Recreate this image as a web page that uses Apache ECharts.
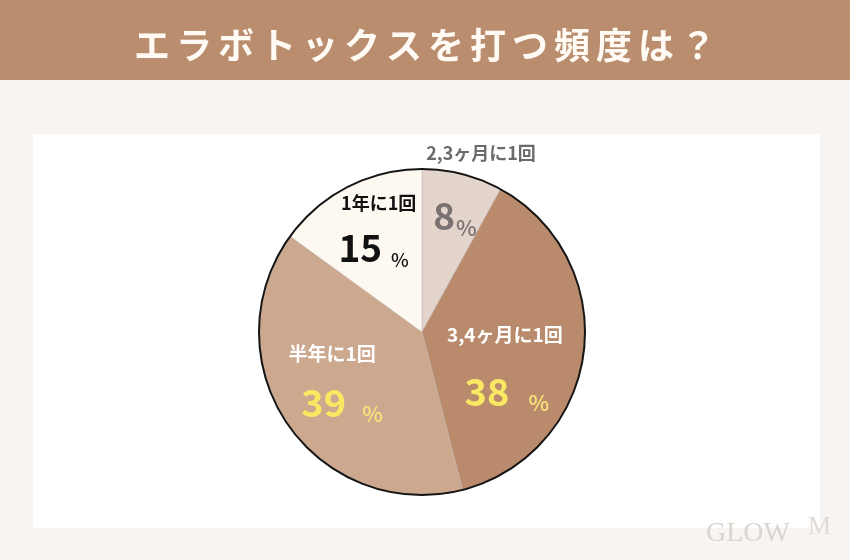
<!DOCTYPE html>
<html><head><meta charset="utf-8">
<script src="https://cdn.jsdelivr.net/npm/echarts@6/dist/echarts.min.js"></script>
<style>html,body{margin:0;padding:0;background:#f8f4f1}#c{width:850px;height:560px}</style>
</head><body><div id="c"></div>
<script>
const titleText = 'エラボトックスを打つ頻度は？';
const categories = ['2,3ヶ月に1回', '3,4ヶ月に1回', '半年に1回', '1年に1回'];
const values = [8, 38, 39, 15];
const unit = '%';

const FONT = '"Noto Sans CJK JP", "Noto Sans", sans-serif';
const sliceColors = ['#e3d4cc', '#b98b6c', '#cca88f', '#fdf8f0'];
const nameColors = ['#6e6a6a', '#ffffff', '#ffffff', '#111111'];
const nameSizes = [18, 19, 19, 18];
const numColors = ['#7a7270', '#fae863', '#fae863', '#111111'];
const pctColors = ['#7a7270', '#f8e47a', '#f8e47a', '#111111'];
const numSizes = [37, 38, 38, 37];
const pctSizes = [22, 22, 22, 19];
const pctGap = [1, 19, 16, 9];
const pctLH = [12, 18, 30, 26];
const nameShift = [[38, -97], [-1, -8], [-20, -26], [-5, -54]];
const valueShift = [[12, -34], [1, 49], [-10, 23], [-10, -9]];

const chart = echarts.init(document.getElementById('c'), null, {renderer: 'canvas'});

const valueData = values.map((v, i) => ({
  value: v,
  name: categories[i],
  itemStyle: {color: sliceColors[i]},
  label: {
    formatter: '{n|' + v + '}{p|' + unit + '}',
    rich: {
      n: {fontSize: numSizes[i], fontWeight: 'bold', color: numColors[i], fontFamily: FONT, lineHeight: 44},
      p: {fontSize: pctSizes[i], fontWeight: 500, color: pctColors[i], fontFamily: FONT,
          lineHeight: pctLH[i], verticalAlign: 'bottom', padding: [0, 0, 0, pctGap[i]]}
    }
  }
}));

const nameData = values.map((v, i) => ({
  value: v,
  name: categories[i],
  label: {color: nameColors[i], fontSize: nameSizes[i]}
}));

const titleRich = titleText.split('').map(c => '{c|' + c + '}').join('');

const option = {
  backgroundColor: '#f8f4f1',
  animation: false,
  title: {
    text: titleRich,
    left: 'center',
    top: 19,
    z: 10,
    textStyle: {
      rich: {
        c: {fontSize: 36, fontWeight: 'bold', color: '#fffaf3', fontFamily: FONT, padding: [0, 3, 0, 3], lineHeight: 42}
      }
    }
  },
  graphic: [
    {type: 'rect', z: 0, shape: {x: 0, y: 0, width: 850, height: 80}, style: {fill: '#b98d6d'}},
    {type: 'rect', z: 0, shape: {x: 33, y: 134, width: 787, height: 394}, style: {fill: '#ffffff'}},
    {type: 'text', z: 1, left: 706, top: 520,
      style: {text: 'GLOW', fontSize: 28, fontFamily: '"Liberation Serif", serif', fill: '#dcd4ce', fontWeight: 'normal'}},
    {type: 'text', z: 1, left: 808, top: 514,
      style: {text: 'M', fontSize: 26, fontFamily: '"Liberation Serif", serif', fill: '#e2dad4'}}
  ],
  series: [
    {
      type: 'pie',
      z: 2,
      center: [422, 332],
      radius: 163,
      startAngle: 90,
      clockwise: true,
      silent: true,
      emphasis: {disabled: true},
      itemStyle: {borderColor: 'rgba(190,178,172,0.55)', borderWidth: 0.8},
      label: {show: true, position: 'inside', textBorderWidth: 0},
      labelLine: {show: false},
      labelLayout: function (p) { return {dx: valueShift[p.dataIndex][0], dy: valueShift[p.dataIndex][1]}; },
      data: valueData
    },
    {
      type: 'pie',
      z: 3,
      center: [422, 332],
      radius: 163,
      startAngle: 90,
      clockwise: true,
      silent: true,
      emphasis: {disabled: true},
      itemStyle: {color: 'rgba(0,0,0,0)', borderWidth: 0},
      label: {show: true, position: 'inside', formatter: '{b}', fontWeight: 'bold', fontFamily: FONT, textBorderWidth: 0},
      labelLine: {show: false},
      labelLayout: function (p) { return {dx: nameShift[p.dataIndex][0], dy: nameShift[p.dataIndex][1]}; },
      data: nameData
    },
    {
      type: 'pie',
      z: 4,
      center: [422, 332],
      radius: 163,
      silent: true,
      emphasis: {disabled: true},
      itemStyle: {color: 'rgba(0,0,0,0)', borderColor: '#151515', borderWidth: 2},
      label: {show: false},
      labelLine: {show: false},
      data: [{value: 1, name: ''}]
    }
  ]
};
chart.setOption(option);
</script></body></html>
